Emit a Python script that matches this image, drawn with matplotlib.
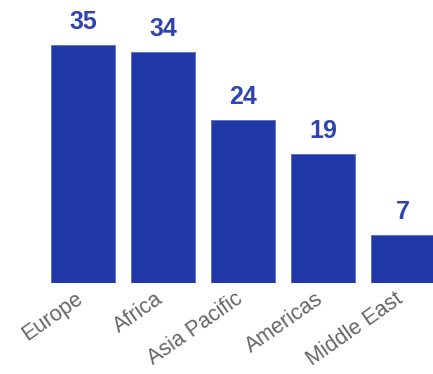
import matplotlib
matplotlib.use('Agg')
import matplotlib.pyplot as plt
import matplotlib.transforms as mtransforms

regions = ['Europe', 'Africa', 'Asia Pacific', 'Americas', 'Middle East']
counts = [35, 34, 24, 19, 7]

bar_color = '#2139a6'

fig = plt.figure(figsize=(4.33, 3.74), dpi=100)
ax = fig.add_axes([0, 0.2433, 1, 0.7567])

x = range(len(regions))
bars = ax.bar(x, counts, width=0.8, color=bar_color, edgecolor='#5a6cc4', linewidth=0.6)

for xi, v in zip(x, counts):
    ax.annotate(str(v), (xi, v), xytext=(0, 8), textcoords='offset points',
                ha='center', va='bottom', fontsize=18, fontweight='bold',
                color='#2f44ae', family='Liberation Sans')

ax.set_xlim(-1.0375, 4.375)
ax.set_ylim(0, 41.6)
ax.set_xticks(list(x))
ax.set_xticklabels(regions, rotation=35, ha='right', rotation_mode='anchor',
                   fontsize=15.5, color='#666666', family='Liberation Sans')
ax.tick_params(axis='x', length=0, pad=4)
shift = mtransforms.ScaledTranslation(-6 / 72, 0, fig.dpi_scale_trans)
for lab in ax.get_xticklabels():
    lab.set_transform(lab.get_transform() + shift)
ax.set_yticks([])
for s in ax.spines.values():
    s.set_visible(False)

fig.savefig('out.png', dpi=100)
